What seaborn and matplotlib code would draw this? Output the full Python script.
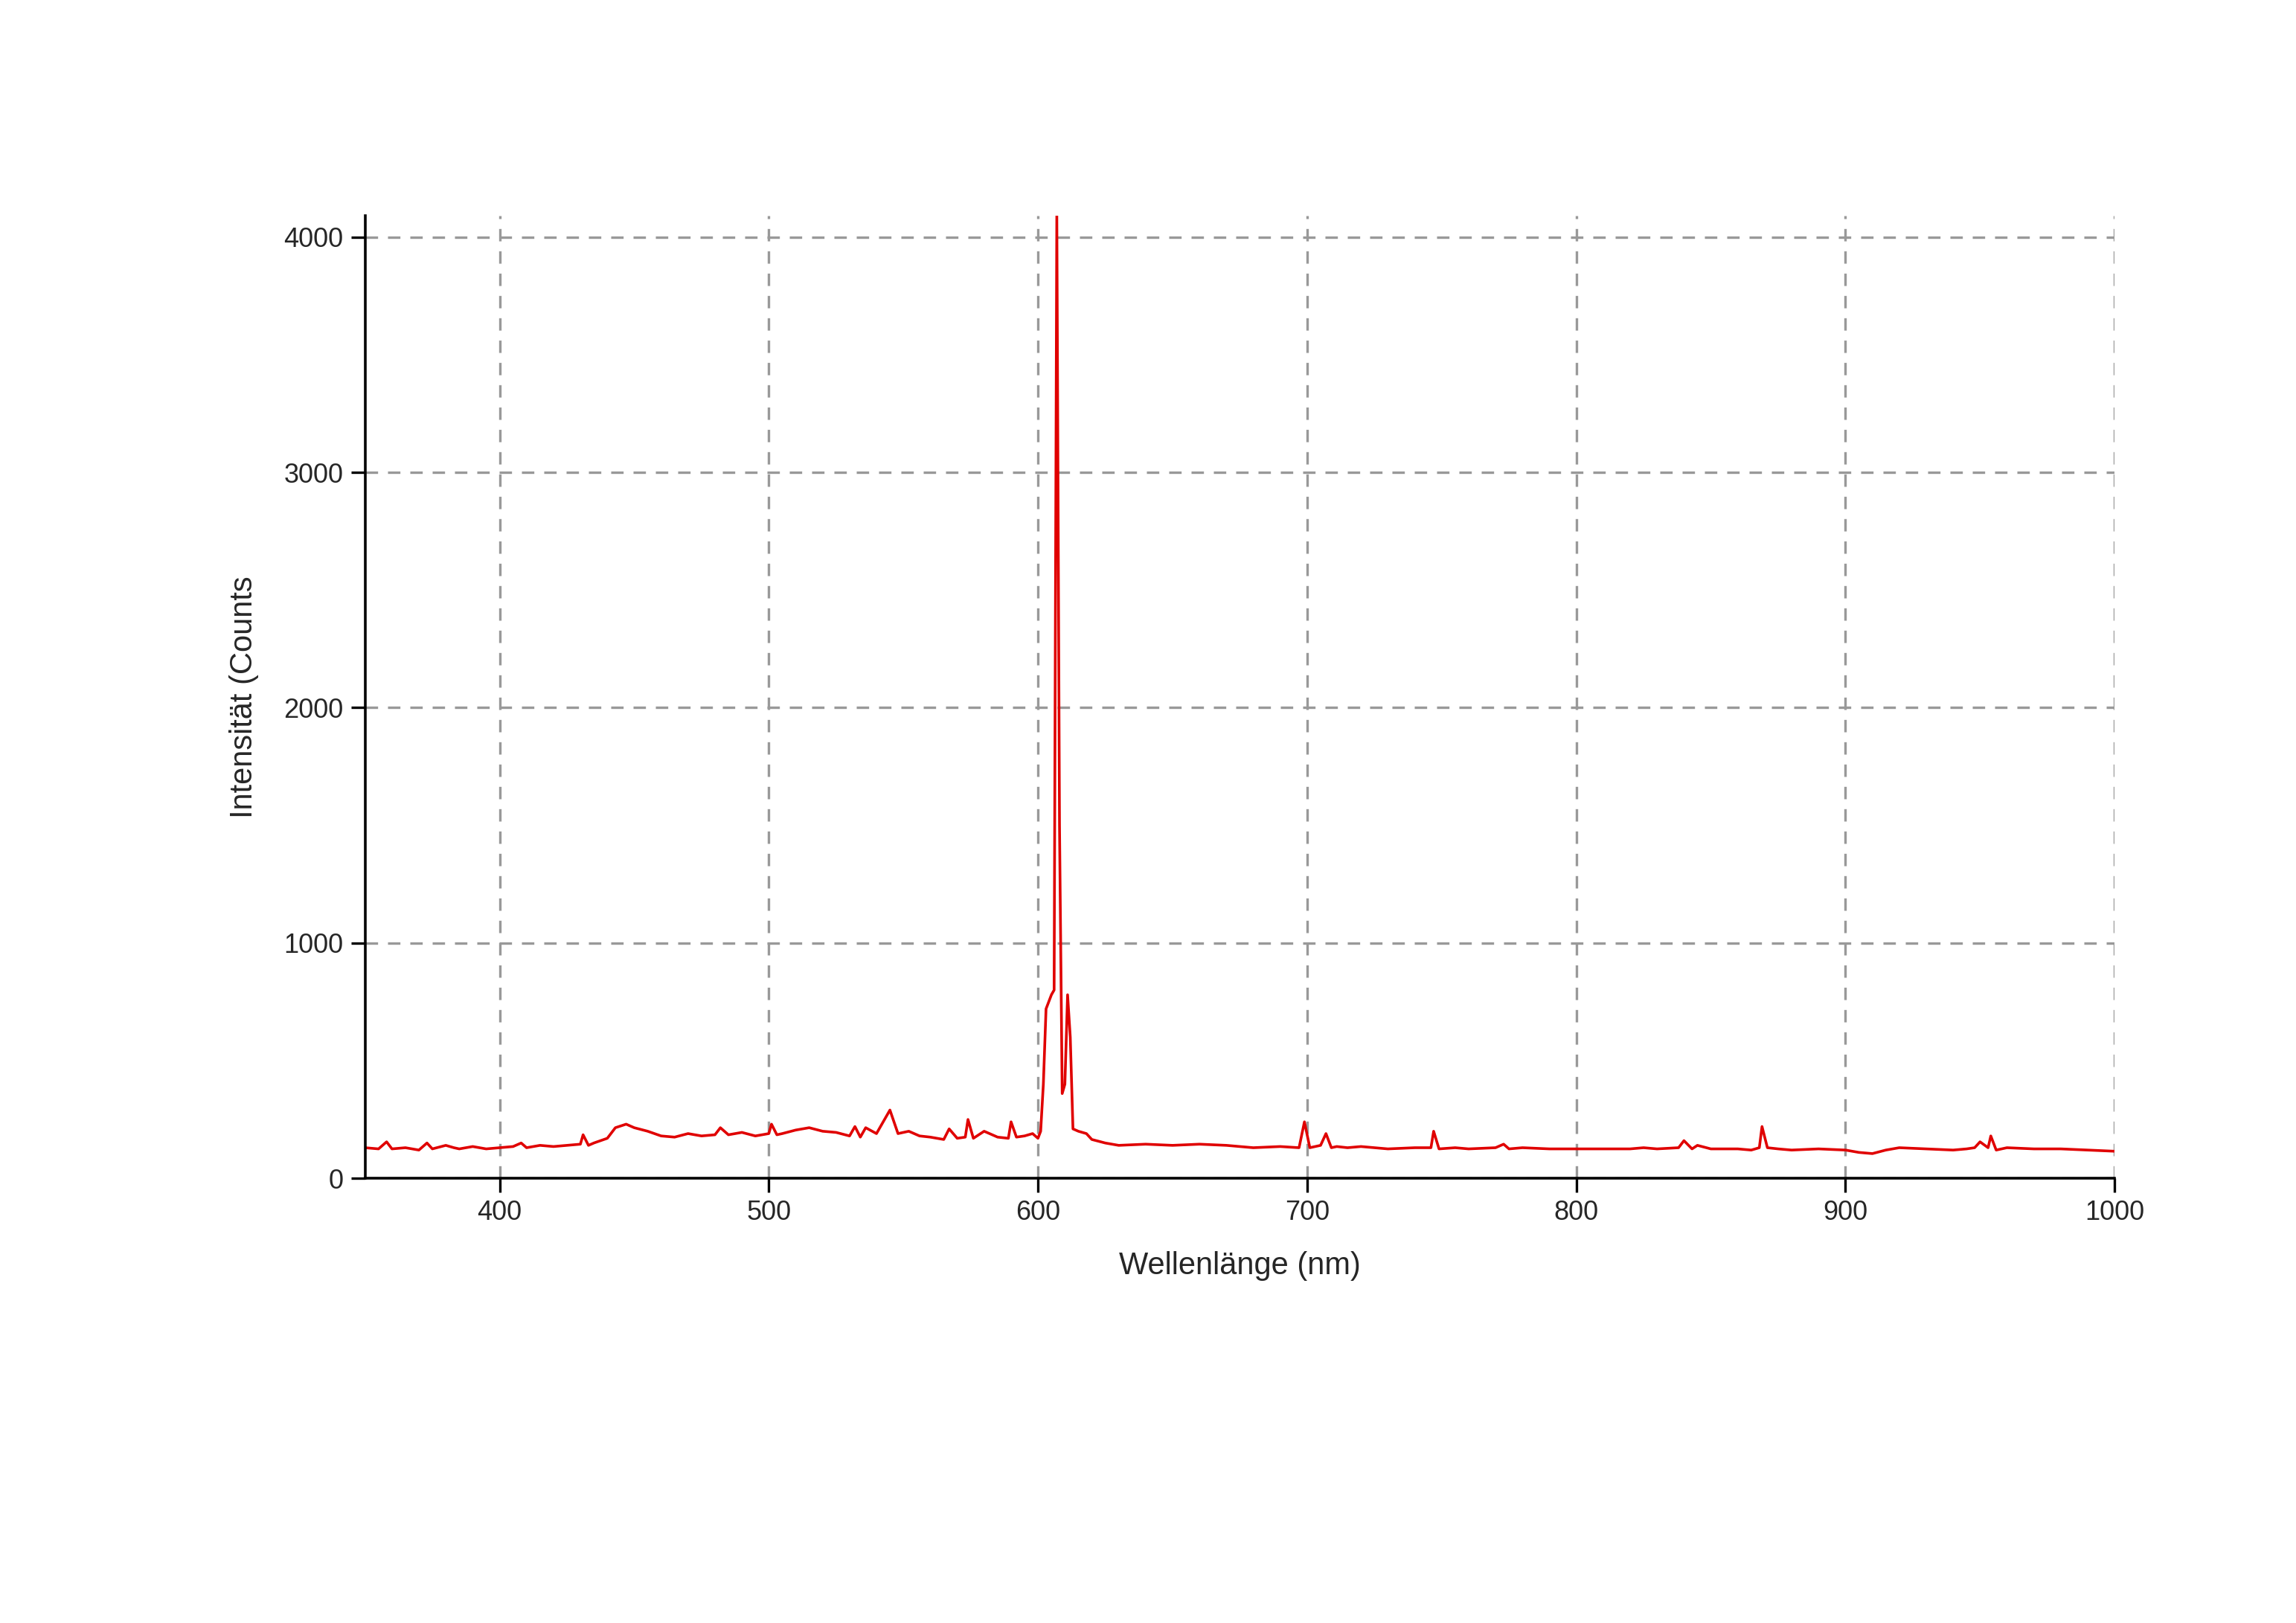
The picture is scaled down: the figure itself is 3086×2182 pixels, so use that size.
import numpy as np
import pandas as pd
import seaborn as sns
import matplotlib.pyplot as plt

# Spektrum
wellenlaenge = [350, 355, 358, 360, 365, 370, 373, 375, 380, 383, 385, 390, 395, 400, 405, 408, 410, 415,
                420, 425, 430, 431, 433, 435, 440, 443, 447, 450, 455, 460, 465, 470, 475, 480, 482, 485,
                490, 495, 500, 501, 503, 505, 510, 515, 520, 525, 530, 532, 534, 536, 540, 543, 545, 548,
                552, 556, 560, 565, 567, 570, 573, 574, 576, 580, 585, 589, 590, 592, 595, 598, 600, 601,
                602, 603, 605, 606, 607, 608, 609, 610, 611, 612, 613, 615, 618, 620, 625, 630, 640, 650,
                660, 670, 680, 690, 697, 699, 701, 705, 707, 709, 711, 715, 720, 730, 740, 746, 747, 749,
                755, 760, 770, 773, 775, 780, 790, 800, 810, 820, 825, 830, 838, 840, 843, 845, 850, 860,
                865, 868, 869, 871, 875, 880, 890, 900, 905, 910, 915, 920, 930, 940, 945, 948, 950, 953,
                954, 956, 960, 970, 980, 990, 1000]
intensitaet = [130, 125, 155, 125, 130, 120, 150, 125, 140, 130, 125, 135, 125, 130, 135, 150, 130, 140,
               135, 140, 145, 185, 140, 150, 170, 215, 230, 215, 200, 180, 175, 190, 180, 185, 215, 185,
               195, 180, 190, 230, 185, 190, 205, 215, 200, 195, 180, 220, 175, 215, 190, 250, 290, 190,
               200, 180, 175, 165, 210, 170, 175, 250, 170, 200, 175, 170, 240, 175, 180, 190, 170, 200,
               400, 720, 780, 800, 4100, 1500, 360, 400, 780, 600, 210, 200, 190, 165, 150, 140, 145, 140,
               145, 140, 130, 135, 130, 240, 130, 140, 190, 130, 135, 130, 135, 125, 130, 130, 200, 125,
               130, 125, 130, 145, 125, 130, 125, 125, 125, 125, 130, 125, 130, 160, 125, 140, 125, 125,
               120, 130, 220, 130, 125, 120, 125, 120, 110, 105, 120, 130, 125, 120, 125, 130, 155, 130,
               180, 120, 130, 125, 125, 120, 115]

df = pd.DataFrame({'wl': wellenlaenge, 'I': intensitaet})

sns.set_style('white')
plt.rcParams['font.family'] = ['Liberation Sans', 'DejaVu Sans']

fig = plt.figure(figsize=(15.43, 10.91), dpi=200)
ax = fig.add_axes([0.159, 0.274, 0.762, 0.593])
sns.lineplot(data=df, x='wl', y='I', color='#e00000', linewidth=1.3, ax=ax)

ax.set_xlim(350, 1000)
ax.set_ylim(0, 4090)
ax.set_xticks([400, 500, 600, 700, 800, 900, 1000])
ax.set_yticks([0, 1000, 2000, 3000, 4000])
ax.grid(True, linestyle=(0, (5, 4)), color='#999999', linewidth=1.2)
for s in ['top', 'right']:
    ax.spines[s].set_visible(False)
for s in ['left', 'bottom']:
    ax.spines[s].set_color('black')
    ax.spines[s].set_linewidth(1.3)
ax.tick_params(axis='both', direction='out', length=7, width=1.2, color='black', labelsize=13, left=True, bottom=True)
ax.set_xlabel('Wellenlänge (nm)', fontsize=15, labelpad=12)
ax.set_ylabel('Intensität (Counts', fontsize=15, labelpad=12)

fig.savefig('out.png', dpi=200, facecolor='white')
